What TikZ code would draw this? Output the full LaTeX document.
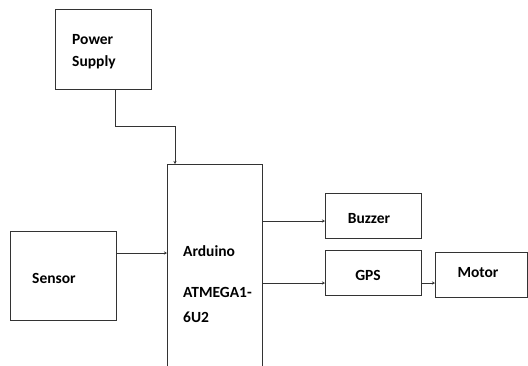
\documentclass[tikz,border=0pt]{standalone}
\usepackage{fontspec}
\setmainfont{Carlito}
\usetikzlibrary{arrows.meta}
\begin{document}
\begin{tikzpicture}[x=1pt,y=-1pt,
  blk/.style={draw, line width=1pt, color=black!80, inner sep=0pt, anchor=north west},
  lbl/.style={font=\bfseries\fontsize{15.5}{18}\selectfont, inner sep=0pt, text=black},
  conn/.style={line width=0.9pt, color=black!80, -{Stealth[length=3pt,width=3pt]}}]
\clip (0,0) rectangle (528,365);
\useasboundingbox (0,0) rectangle (528,365);
\fill[white] (0,0) rectangle (528,365);
% boxes
\node[blk, minimum width=96pt, minimum height=80pt] (ps) at (55,9) {};
\node[blk, minimum width=95pt, minimum height=204pt] (ard) at (167,164) {};
\node[blk, minimum width=106pt, minimum height=89pt] (sen) at (10,231) {};
\node[blk, minimum width=96pt, minimum height=45pt] (buz) at (325,193) {};
\node[blk, minimum width=96pt, minimum height=45pt] (gps) at (325,250) {};
\node[blk, minimum width=92pt, minimum height=45pt] (mot) at (435,252) {};
% labels
\node[lbl, anchor=west] (tps1) at (72,40) {Power};
\node[lbl, anchor=west] (tps2) at (72,62) {Supply};
\node[lbl, anchor=west] (tsen) at (32,278) {Sensor};
\node[lbl, anchor=west] (tard1) at (183,251) {Arduino};
\node[lbl, anchor=west] (tard2) at (183,292) {ATMEGA1-};
\node[lbl, anchor=west] (tard3) at (183,317) {6U2};
\node[lbl] (tbuz) at (369,219) {Buzzer};
\node[lbl] (tgps) at (368,275) {GPS};
\node[lbl] (tmot) at (478,273) {Motor};
% connectors
\coordinate (c1) at (115,126);
\coordinate (c2) at (175,126);
\draw[conn] (ps.south -| c1) -- (c1) -- (c2) -- (c2 |- ard.north);
\draw[conn] (sen.east |- 0,253) -- (ard.west |- 0,253);
\draw[conn] (ard.east |- 0,221) -- (buz.west |- 0,221);
\draw[conn] (ard.east |- 0,283) -- (gps.west |- 0,283);
\draw[conn] (gps.east |- 0,283) -- (mot.west |- 0,283);
\end{tikzpicture}
\end{document}
